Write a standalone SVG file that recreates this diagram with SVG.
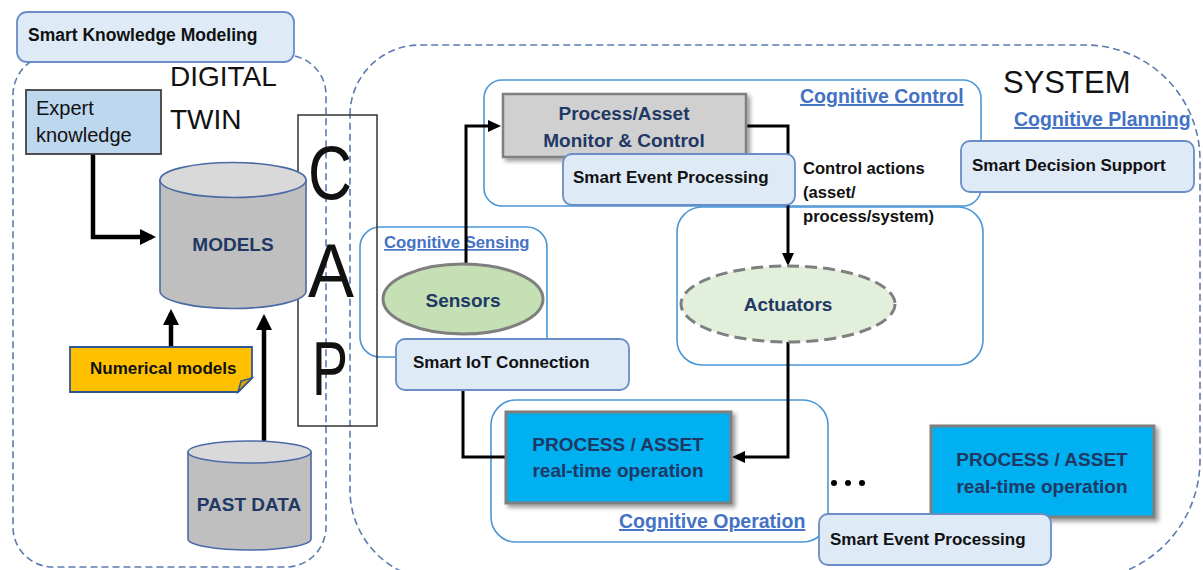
<svg xmlns="http://www.w3.org/2000/svg" width="1203" height="570" viewBox="0 0 1203 570">
<style>
text{font-family:"Liberation Sans",Arial,sans-serif}
.dash{fill:none;stroke:#5c7cb0;stroke-width:1.6;stroke-dasharray:7 4}
.cog{fill:none;stroke:#4a96d6;stroke-width:1.6}
.small{fill:#deebf7;stroke:#6a8cc7;stroke-width:1.8}
.lbl{font-size:17px;font-weight:bold;fill:#111}
.navy{font-size:19px;font-weight:bold;fill:#1f3864;text-anchor:middle}
.cogt{font-size:19.5px;font-weight:bold;fill:#4472c4;text-decoration:underline}
.big{font-weight:normal;fill:#111}
.conL{fill:none;stroke:#000;stroke-width:4.5}
.conR{fill:none;stroke:#000;stroke-width:3}
.cyl{fill:#bfbfbf;stroke:#4a6aa5;stroke-width:1.6}
.cyltop{fill:#d9d9d9;stroke:#4a6aa5;stroke-width:1.6}
</style>
<defs>
<marker id="ahL" markerUnits="userSpaceOnUse" markerWidth="18" markerHeight="18" refX="12" refY="8" orient="auto"><path d="M0,0 L16,8 L0,16 z" fill="#000"/></marker>
<marker id="ahR" markerUnits="userSpaceOnUse" markerWidth="14" markerHeight="14" refX="9" refY="6" orient="auto"><path d="M0,0 L13,6 L0,12 z" fill="#000"/></marker>
<filter id="sh" x="-10%" y="-10%" width="130%" height="140%"><feDropShadow dx="3" dy="3" stdDeviation="2" flood-color="#000" flood-opacity="0.4"/></filter>
</defs>

<g id="digital-twin">
<rect class="dash" x="13" y="55" width="313" height="512" rx="40"/>
<text class="big" x="170" y="86" font-size="28">DIGITAL</text>
<text class="big" x="170" y="129" font-size="28">TWIN</text>
</g>
<g id="system">
<path class="dash" d="M350,115 A70,70 0 0 1 420,45 H1085 A115,115 0 0 1 1200,160 V460 A120,120 0 0 1 1080,580 H440 A90,90 0 0 1 350,490 Z"/>
<text class="big" x="1003" y="93" font-size="31">SYSTEM</text>
</g>

<g id="cognitive-control"><rect class="cog" x="484" y="80" width="497" height="126" rx="18"/><text class="cogt" x="800" y="103">Cognitive Control</text></g>
<g id="cognitive-actuation"><rect class="cog" x="677" y="207" width="306" height="158" rx="25"/></g>
<g id="cognitive-sensing"><rect class="cog" x="360" y="227" width="187" height="130" rx="20"/><text class="cogt" x="384" y="248" style="font-size:16.7px">Cognitive Sensing</text></g>
<g id="cognitive-operation"><rect class="cog" x="491" y="400" width="337" height="142" rx="25"/><text class="cogt" x="619" y="528">Cognitive Operation</text></g>
<g id="cognitive-planning"><text class="cogt" x="1014" y="126">Cognitive Planning</text></g>

<g id="cap">
<rect x="298" y="115" width="79" height="311" fill="none" stroke="#333" stroke-width="1.5"/>
<text class="big" x="330" y="199" font-size="76" text-anchor="middle" textLength="44" lengthAdjust="spacingAndGlyphs">C</text>
<text class="big" x="331" y="297" font-size="76" text-anchor="middle" textLength="46" lengthAdjust="spacingAndGlyphs">A</text>
<text class="big" x="330" y="395" font-size="76" text-anchor="middle" textLength="36" lengthAdjust="spacingAndGlyphs">P</text>
</g>

<g id="connectors">
<path class="conL" d="M93,154 V237 H152" marker-end="url(#ahL)"/>
<path class="conL" d="M171,347 V313" marker-end="url(#ahL)"/>
<path class="conL" d="M264,457 V318" marker-end="url(#ahL)"/>
<path class="conR" d="M466,264 V126 H497" marker-end="url(#ahR)"/>
<path class="conR" d="M746,126 H788 V262" marker-end="url(#ahR)"/>
<path class="conR" d="M463,391 V457 H506"/>
<path class="conR" d="M788,342 V457 H736" marker-end="url(#ahR)"/>
</g>

<g id="smart-knowledge-modeling"><rect class="small" x="17" y="12" width="277" height="50" rx="10"/><text class="lbl" x="28" y="41" style="font-size:17.5px">Smart Knowledge Modeling</text></g>
<g id="expert-knowledge"><rect x="26" y="90" width="135" height="64" fill="#bdd7ee" stroke="#404040" stroke-width="1.8"/><text class="big" x="36" y="115" font-size="20">Expert</text><text class="big" x="36" y="142" font-size="20">knowledge</text></g>
<g id="models">
<path class="cyl" d="M160,180 V291 A73,17.5 0 0 0 306,291 V180 Z"/>
<ellipse class="cyltop" cx="233" cy="180" rx="73" ry="17.5"/>
<text class="navy" x="233" y="251">MODELS</text>
</g>
<g id="numerical-models">
<path d="M70,347 H252 V378 L238,392 H70 Z" fill="#ffc000" stroke="#2f5597" stroke-width="1.8"/>
<path d="M238,392 L241,381 L252,378 Z" fill="#d9a400" stroke="#2f5597" stroke-width="1.5"/>
<text class="lbl" x="90" y="374">Numerical models</text>
</g>
<g id="past-data">
<path class="cyl" d="M188,452 V539 A61.5,11 0 0 0 311,539 V452 Z"/>
<ellipse class="cyltop" cx="249.5" cy="452" rx="61.5" ry="11"/>
<text class="navy" x="249" y="511">PAST DATA</text>
</g>

<g id="process-monitor"><rect x="503" y="94" width="243" height="63" fill="#d0d0d0" stroke="#7f7f7f" stroke-width="2.5" filter="url(#sh)"/><text class="navy" x="624" y="120">Process/Asset</text><text class="navy" x="624" y="147">Monitor &amp; Control</text></g>
<g id="smart-event-processing-1"><rect class="small" x="563" y="154" width="232" height="51" rx="9"/><text class="lbl" x="573" y="183">Smart Event Processing</text></g>
<g id="control-actions"><text class="lbl" x="803" y="174" style="font-size:16.6px">Control actions</text><text class="lbl" x="803" y="198" style="font-size:16.6px">(asset/</text><text class="lbl" x="803" y="222" style="font-size:16.6px">process/system)</text></g>
<g id="smart-decision-support"><rect class="small" x="961" y="141" width="233" height="51" rx="9"/><text class="lbl" x="972" y="171">Smart Decision Support</text></g>
<g id="sensors"><ellipse cx="463" cy="299" rx="80" ry="35" fill="#c5e0b4" stroke="#7f7f7f" stroke-width="3"/><text class="navy" x="463" y="307">Sensors</text></g>
<g id="actuators"><ellipse cx="788" cy="304" rx="107" ry="38" fill="#e2efda" stroke="#7f7f7f" stroke-width="3" stroke-dasharray="12 6"/><text class="navy" x="788" y="311">Actuators</text></g>
<g id="smart-iot-connection"><rect class="small" x="396" y="339" width="233" height="51" rx="9"/><text class="lbl" x="413" y="368">Smart IoT Connection</text></g>
<g id="process-asset-1"><rect x="506" y="412" width="225" height="91" fill="#00b0f0" stroke="#7f7f7f" stroke-width="3" filter="url(#sh)"/><text class="navy" x="618" y="451">PROCESS / ASSET</text><text class="navy" x="618" y="477">real-time operation</text></g>
<g id="ellipsis"><circle cx="834" cy="483" r="3"/><circle cx="848" cy="483" r="3"/><circle cx="862" cy="483" r="3"/></g>
<g id="process-asset-2"><rect x="931" y="426" width="223" height="91" fill="#00b0f0" stroke="#7f7f7f" stroke-width="3" filter="url(#sh)"/><text class="navy" x="1042" y="466">PROCESS / ASSET</text><text class="navy" x="1042" y="493">real-time operation</text></g>
<g id="smart-event-processing-2"><rect class="small" x="819" y="514" width="232" height="51" rx="9"/><text class="lbl" x="830" y="545">Smart Event Processing</text></g>
</svg>
